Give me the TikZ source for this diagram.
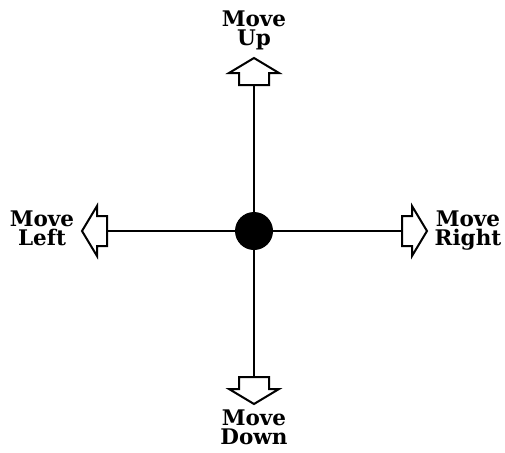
\documentclass[tikz,border=0pt]{standalone}
\usepackage{fontspec}
\setmainfont{DejaVu Serif}
\begin{document}
\begin{tikzpicture}[x=1pt,y=-1pt,
  lbl/.style={font=\fontsize{21.5}{18.5}\selectfont\bfseries, align=center, inner sep=0pt, anchor=north},
  arr/.style={draw=black, line width=2pt, fill=white, line join=miter},
  axis/.style={draw=black, line width=2pt}]
\useasboundingbox (0,0) rectangle (505,452);
\coordinate (c) at (254,231);
\coordinate (ub) at (254,85);
\coordinate (db) at (254,385);
\coordinate (lb) at (107,231);
\coordinate (rb) at (402,231);
\draw[axis] (ub) -- (db);
\draw[axis] (lb) -- (rb);
% up arrow
\draw[arr] (239,85) -- (239,73) -- (229,73) -- (254,58) -- (279,73) -- (269,73) -- (269,85) -- cycle;
% down arrow
\draw[arr] (239,377) -- (239,389) -- (229,389) -- (254,404) -- (279,389) -- (269,389) -- (269,377) -- cycle;
% left arrow
\draw[arr] (107,216) -- (97,216) -- (97,206) -- (82,231) -- (97,256) -- (97,246) -- (107,246) -- cycle;
% right arrow
\draw[arr] (402,216) -- (412,216) -- (412,206) -- (427,231) -- (412,256) -- (412,246) -- (402,246) -- cycle;
\fill[black] (c) circle (19);
\node[lbl] (tu) at (254,11) {Move\\Up};
\node[lbl] (td) at (254,410) {Move\\Down};
\node[lbl] (tl) at (42,211) {Move\\Left};
\node[lbl] (tr) at (468,211) {Move\\Right};
\end{tikzpicture}
\end{document}
